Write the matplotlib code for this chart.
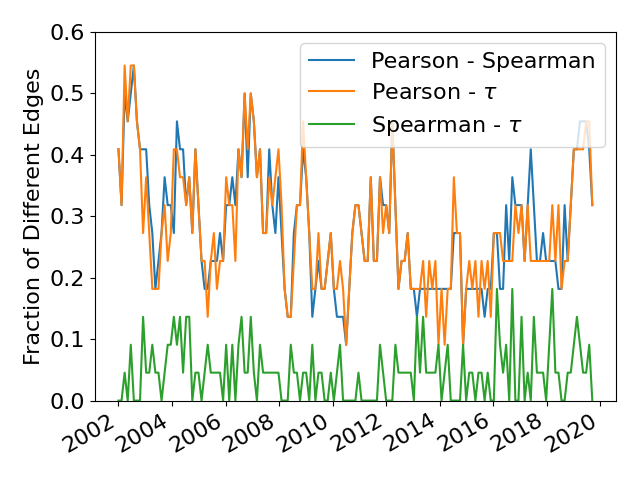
import numpy as np
import pandas as pd
import matplotlib
matplotlib.use("Agg")
import matplotlib.pyplot as plt

plt.rcParams['font.size'] = 16

n_edges = 22  # values are counts of differing edges out of 22

# sample dates, one every six weeks
dates = pd.date_range("2002-01-01", periods=155, freq="42D")

pearson_spearman = [
    9, 7, 11, 10, 11, 12, 10, 9, 9, 9, 7, 6, 4, 5, 6, 8, 7, 7, 6,
    10, 9, 9, 7, 8, 6, 9, 7, 5, 4, 4, 5, 5, 5, 6, 5, 7, 7, 8, 7, 9,
    8, 11, 8, 11, 10, 8, 9, 6, 6, 9, 7, 6, 8, 6, 4, 3, 3, 6, 7, 7, 9,
    8, 6, 3, 4, 5, 4, 4, 5, 6, 4, 3, 3, 3, 2, 4, 6, 7, 7, 6, 5,
    5, 8, 5, 5, 8, 7, 7, 6, 10, 7, 4, 5, 5, 6, 4, 4, 3, 4, 4, 4, 4,
    4, 4, 4, 4, 4, 4, 4, 6, 6, 6, 2, 4, 4, 4, 4, 4, 4, 3, 4, 4, 6, 6, 4,
    4, 7, 5, 8, 7, 7, 7, 5, 7, 9, 7, 5, 5, 6, 5, 5, 5, 5, 4, 4,
    7, 5, 7, 9, 9, 10, 10, 10, 9, 7,
]

pearson_tau = [
    9, 7, 12, 10, 12, 12, 10, 9, 6, 8, 6, 4, 4, 4, 6, 7, 5, 6, 9,
    9, 8, 8, 7, 8, 6, 9, 7, 5, 5, 3, 5, 6, 4, 5, 5, 8, 7, 7, 5, 9,
    8, 11, 9, 11, 10, 8, 9, 6, 6, 8, 7, 8, 9, 7, 4, 3, 3, 5, 7, 7, 10,
    8, 6, 4, 4, 6, 4, 4, 5, 6, 4, 4, 5, 4, 2, 4, 6, 7, 7, 6, 5,
    5, 8, 5, 5, 8, 6, 7, 6, 10, 7, 4, 5, 5, 6, 4, 4, 4, 4, 5, 3, 5,
    4, 5, 2, 4, 2, 4, 4, 8, 6, 6, 2, 4, 5, 4, 5, 3, 5, 4, 5, 3, 6, 6, 6,
    5, 5, 5, 5, 7, 6, 7, 5, 7, 5, 5, 5, 5, 5, 5, 5, 7, 5, 7, 4,
    5, 5, 7, 9, 9, 9, 9, 10, 10, 7,
]

spearman_tau = [
    0, 0, 1, 0, 2, 0, 0, 0, 3, 1, 1, 2, 1, 1, 0, 1, 2, 2, 3,
    2, 3, 1, 3, 3, 0, 1, 1, 0, 1, 2, 1, 1, 1, 1, 0, 2, 0, 2, 0, 2,
    3, 1, 1, 3, 1, 0, 2, 1, 1, 1, 1, 1, 1, 0, 0, 0, 2, 1, 1, 0, 1,
    1, 0, 2, 0, 1, 1, 0, 0, 1, 0, 1, 2, 0, 0, 0, 0, 0, 1, 0, 0,
    0, 0, 0, 0, 2, 1, 0, 0, 0, 2, 1, 1, 1, 1, 1, 0, 3, 1, 3, 1, 1,
    1, 1, 2, 0, 1, 2, 0, 0, 0, 0, 2, 0, 1, 1, 0, 1, 1, 0, 1, 0, 0, 4, 2,
    1, 2, 0, 4, 0, 0, 3, 0, 1, 0, 3, 1, 1, 1, 0, 2, 4, 1, 1, 0,
    0, 1, 1, 2, 3, 2, 1, 1, 2, 0,
]

fig, ax = plt.subplots(figsize=(6.4, 4.8), dpi=100)
ax.plot(dates, np.array(pearson_spearman) / n_edges, label="Pearson - Spearman")
ax.plot(dates, np.array(pearson_tau) / n_edges, label=r"Pearson - $\tau$")
ax.plot(dates, np.array(spearman_tau) / n_edges, label=r"Spearman - $\tau$")

ax.set_ylim(0, 0.6)
ax.set_ylabel("Fraction of Different Edges")
ax.legend(loc="upper right")
fig.autofmt_xdate()
fig.tight_layout()
fig.savefig("out.png")
